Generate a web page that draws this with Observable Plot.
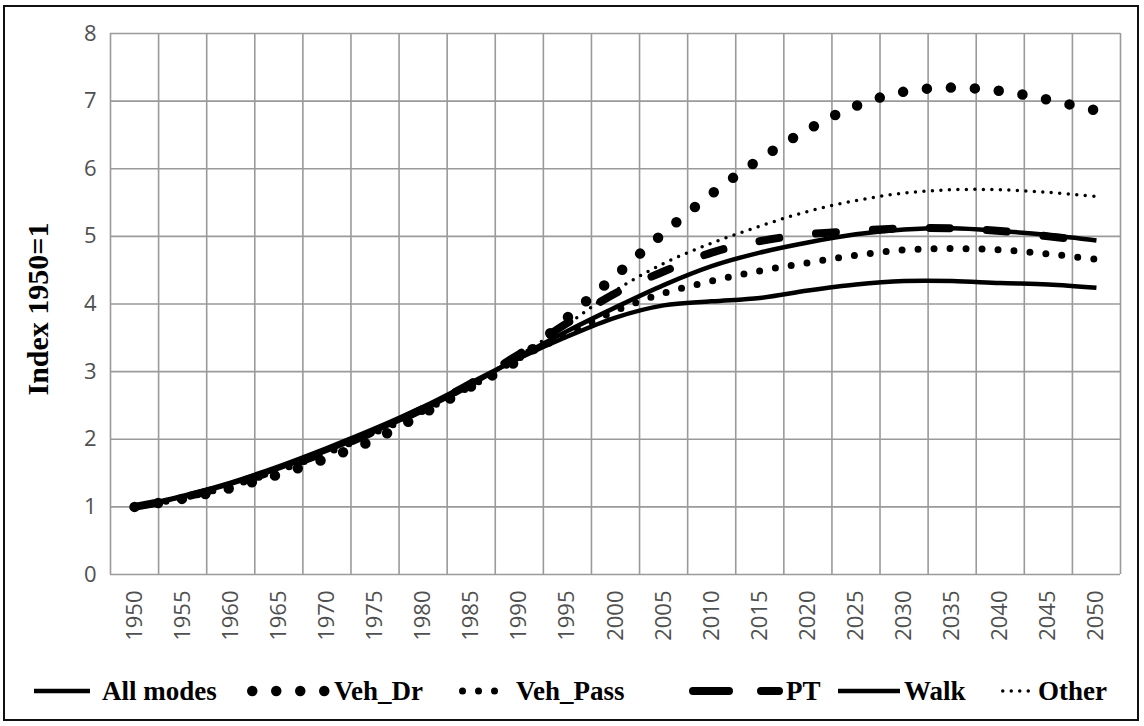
<!DOCTYPE html>
<html>
<head>
<meta charset="utf-8">
<script src="https://cdn.jsdelivr.net/npm/d3@7"></script>
<script src="https://cdn.jsdelivr.net/npm/@observablehq/plot@0.6"></script>
<style>
  html, body { margin: 0; padding: 0; background: #fff; }
  #wrap { position: relative; width: 1144px; height: 726px; background: #fff; overflow: hidden; }
  #frame { position: absolute; left: 3px; top: 5px; width: 1136px; height: 716px; border: 2px solid #111; box-sizing: border-box; pointer-events: none; }
  #chart { position: absolute; left: 0; top: 0; }
  #ytitle { position: absolute; left: 38px; top: 309px; transform: translate(-50%, -50%) rotate(-90deg);
            font-family: "Liberation Serif", "DejaVu Serif", serif; font-weight: bold; font-size: 30px; color: #000; white-space: nowrap; }
  .leg { position: absolute; top: 676px; height: 30px; display: flex; align-items: center; }
  .leg span { font-family: "Liberation Serif", "DejaVu Serif", serif; font-weight: bold; font-size: 27px; color: #000; white-space: nowrap; }
  .leg svg { display: block; }
</style>
</head>
<body>
<div id="wrap">
  <div id="chart"></div>
  <div id="ytitle">Index 1950=1</div>
  <div id="legend"></div>
  <div id="frame"></div>
</div>
<script>
// ---- data ----
const years = [1950,1955,1960,1965,1970,1975,1980,1985,1990,1995,2000,2005,2010,2015,2020,2025,2030,2035,2040,2045,2050];
const allModes = [1.00,1.15,1.34,1.57,1.83,2.12,2.44,2.81,3.22,3.60,3.95,4.28,4.56,4.76,4.91,5.03,5.10,5.12,5.08,5.02,4.94];
const vehDr    = [1.00,1.12,1.28,1.48,1.72,2.00,2.38,2.78,3.18,3.80,4.42,5.05,5.63,6.14,6.58,6.93,7.14,7.20,7.15,7.02,6.86];
const vehPass  = [1.00,1.13,1.31,1.54,1.80,2.10,2.42,2.79,3.20,3.55,3.90,4.16,4.34,4.49,4.61,4.72,4.80,4.82,4.80,4.74,4.66];
const pt       = [1.00,1.14,1.33,1.56,1.82,2.12,2.45,2.83,3.26,3.72,4.16,4.48,4.76,4.93,5.03,5.08,5.12,5.12,5.08,5.00,4.92];
const walk     = [1.00,1.16,1.36,1.60,1.87,2.16,2.48,2.84,3.20,3.52,3.80,3.98,4.04,4.09,4.20,4.29,4.34,4.34,4.31,4.29,4.24];
const other    = [1.00,1.15,1.34,1.57,1.83,2.12,2.44,2.82,3.24,3.70,4.20,4.60,4.90,5.15,5.37,5.53,5.64,5.69,5.69,5.65,5.59];
const seriesNames = ["All modes","Veh_Dr","Veh_Pass","PT","Walk","Other"];
const seriesValues = [allModes, vehDr, vehPass, pt, walk, other];
const yTicks = [0,1,2,3,4,5,6,7,8];

// ---- styles (not data) ----
const lineStyles = {
  "All modes": {strokeWidth: 4.5, strokeDasharray: null, strokeLinecap: "butt"},
  "Veh_Dr":    {strokeWidth: 10.5, strokeDasharray: "0,24", strokeLinecap: "round"},
  "Veh_Pass":  {strokeWidth: 7, strokeDasharray: "0,16", strokeLinecap: "round"},
  "PT":        {strokeWidth: 8, strokeDasharray: "20,37", strokeLinecap: "round"},
  "Walk":      {strokeWidth: 4.5, strokeDasharray: null, strokeLinecap: "butt"},
  "Other":     {strokeWidth: 3.5, strokeDasharray: "0,8.5", strokeLinecap: "round"}
};

const step = years[1] - years[0];
const boundaries = years.map(y => y - step / 2).concat([years[years.length - 1] + step / 2]);

const rows = seriesNames.flatMap((name, s) => years.map((yr, i) => ({series: name, year: yr, value: seriesValues[s][i]})));

const lineMarks = seriesNames.map(name => {
  const st = lineStyles[name];
  const opts = {
    filter: d => d.series === name,
    x: "year", y: "value",
    curve: "catmull-rom",
    stroke: "#000",
    strokeWidth: st.strokeWidth,
    strokeLinecap: st.strokeLinecap,
    strokeLinejoin: "round"
  };
  if (st.strokeDasharray) opts.strokeDasharray = st.strokeDasharray;
  return Plot.line(rows, opts);
});

const chart = Plot.plot({
  width: 1144,
  height: 650,
  marginLeft: 110,
  marginRight: 24,
  marginTop: 33,
  marginBottom: 76,
  style: {fontFamily: "'Open Sans', sans-serif", fontSize: "22px", color: "#505050", background: "transparent"},
  x: {
    domain: [boundaries[0], boundaries[boundaries.length - 1]],
    ticks: years,
    tickFormat: d => String(d),
    tickRotate: -90,
    tickSize: 0,
    tickPadding: 16,
    label: null
  },
  y: {
    domain: [0, 8],
    ticks: yTicks,
    tickFormat: d => String(d),
    tickSize: 0,
    tickPadding: 14,
    label: null
  },
  marks: [
    Plot.ruleY(yTicks, {y: d => d, stroke: "#9a9a9a", strokeWidth: 1.6}),
    Plot.ruleX(boundaries, {x: d => d, stroke: "#9a9a9a", strokeWidth: 1.6}),
    ...lineMarks
  ]
});
document.getElementById("chart").appendChild(chart);

// ---- legend ----
const legendLayout = {
  "All modes": {left: 34, w: 56, gap: 12},
  "Veh_Dr":    {left: 246, w: 86, gap: 2},
  "Veh_Pass":  {left: 458, w: 54, gap: 4},
  "PT":        {left: 688, w: 96, gap: 2},
  "Walk":      {left: 838, w: 62, gap: 4},
  "Other":     {left: 1000, w: 34, gap: 4}
};
const legend = document.getElementById("legend");
seriesNames.forEach(name => {
  const L = legendLayout[name];
  const st = lineStyles[name];
  const item = document.createElement("div");
  item.className = "leg";
  item.style.left = L.left + "px";
  const ns = "http://www.w3.org/2000/svg";
  const svg = document.createElementNS(ns, "svg");
  svg.setAttribute("width", L.w);
  svg.setAttribute("height", 30);
  svg.style.marginRight = L.gap + "px";
  const ln = document.createElementNS(ns, "line");
  const pad = st.strokeLinecap === "round" ? st.strokeWidth / 2 + 1 : 0;
  ln.setAttribute("x1", pad);
  ln.setAttribute("x2", L.w - pad);
  ln.setAttribute("y1", 15);
  ln.setAttribute("y2", 15);
  ln.setAttribute("stroke", "#000");
  ln.setAttribute("stroke-width", st.strokeWidth);
  ln.setAttribute("stroke-linecap", st.strokeLinecap);
  if (st.strokeDasharray) ln.setAttribute("stroke-dasharray", name === "PT" ? "36,32" : st.strokeDasharray);
  svg.appendChild(ln);
  const label = document.createElement("span");
  label.textContent = name;
  item.appendChild(svg);
  item.appendChild(label);
  legend.appendChild(item);
});
</script>
</body>
</html>
